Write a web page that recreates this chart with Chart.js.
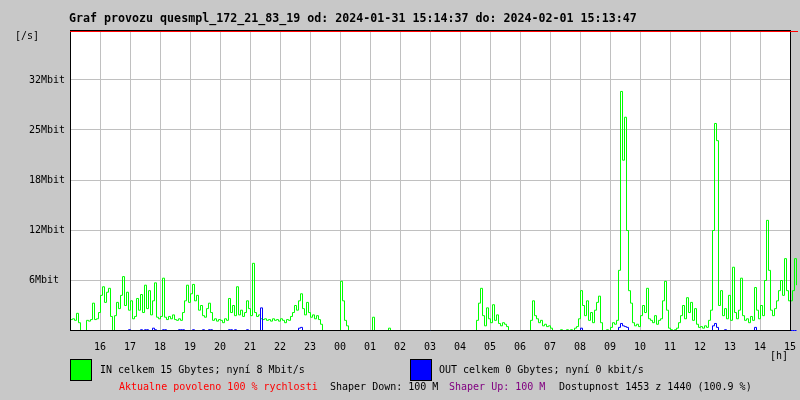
<!DOCTYPE html>
<html><head><meta charset="utf-8">
<script src="https://cdn.jsdelivr.net/npm/chart.js@4"></script>
<style>
html,body{margin:0;padding:0;background:#c8c8c8;}
#wrap{position:relative;width:800px;height:400px;overflow:hidden;background:#c8c8c8;}
canvas{position:absolute;left:0;top:0;}
.t{position:absolute;font-family:"DejaVu Sans Mono",monospace;font-size:10px;line-height:12px;white-space:pre;color:#000;}
.title{font-size:11.65px;line-height:14px;font-weight:bold;}
.sq{position:absolute;width:20px;height:20px;border:1px solid #000;}
</style></head><body>
<div id="wrap">
<canvas id="c" width="800" height="400"></canvas>
<div class="t title" style="left:69px;top:11px;">Graf provozu quesmpl_172_21_83_19 od: 2024-01-31 15:14:37 do: 2024-02-01 15:13:47</div>
<div class="t" style="left:15px;top:30px;">[/s]</div>
<div class="t" style="left:770px;top:350px;">[h]</div>
<div class="sq" style="left:70px;top:359px;background:#00ff00;"></div>
<div class="t" style="left:100px;top:364px;">IN celkem 15 Gbytes; nyní 8 Mbit/s</div>
<div class="sq" style="left:410px;top:359px;background:#0000ff;"></div>
<div class="t" style="left:439px;top:364px;">OUT celkem 0 Gbytes; nyní 0 kbit/s</div>
<div class="t" style="left:119px;top:381px;color:#ff0000;">Aktualne povoleno 100 % rychlosti</div>
<div class="t" style="left:330px;top:381px;">Shaper Down: 100 M</div>
<div class="t" style="left:449px;top:381px;color:#800080;">Shaper Up: 100 M</div>
<div class="t" style="left:559px;top:381px;">Dostupnost 1453 z 1440 (100.9 %)</div>
</div>
<script>
// hour labels on the x axis (hours after 15:00 of 2024-01-31)
const hourLabels = ['16','17','18','19','20','21','22','23','00','01','02','03','04','05','06','07','08','09','10','11','12','13','14','15'];
const hourTickPos = [0,1,2,3,4,5,6,7,8,9,10,11,12,13,14,15,16,17,18,19,20,21,22,23,24];
// y grid values (Mbit/s) and their labels
const yTickValues = [0, 6.4, 12.8, 19.2, 25.6, 32, 38.4];
const yTickLabels = ['', '6Mbit', '12Mbit', '18Mbit', '25Mbit', '32Mbit', ''];
// one sample every 4 minutes
const SAMPLE_STEP_H = 4/60;
// IN traffic, Mbit/s
const inMbit = [
1.4,1.5,1.3,2.2,1.0,0,0,0,1.3,1.2,
1.4,3.5,1.4,1.5,2.3,4.5,5.6,3.6,4.9,5.4,
1.8,0,1.9,3.6,2.8,4.5,6.9,3.2,4.9,2.6,
3.8,1.5,1.8,4.1,2.6,4.6,2.3,5.8,2.8,5.1,
2.0,3.8,6.1,1.7,1.5,1.8,6.7,1.7,1.4,1.8,
1.5,2.0,1.4,1.3,1.5,1.3,2.3,3.8,5.8,3.6,
4.7,5.9,3.8,4.5,2.6,3.2,1.9,1.7,2.8,3.5,
2.3,1.3,1.5,1.2,1.4,1.3,1.0,1.5,1.3,4.1,
2.3,3.2,1.9,5.6,2.0,2.6,1.8,2.3,3.8,2.8,
1.9,8.6,2.3,1.8,2.0,1.5,1.4,1.5,1.3,1.4,
1.2,1.5,1.3,1.4,1.2,1.5,1.3,1.0,1.4,1.3,
1.8,2.3,3.2,2.6,3.8,4.7,2.8,2.0,3.6,2.3,
1.7,2.0,1.5,1.9,1.4,0.8,0,0,0,0,
0,0,0,0,0,6.3,3.8,1.3,0.6,0,
0,0,0,0,0,0,0,0,0,0,
0,1.7,0,0,0,0,0,0,0,0.3,
0,0,0,0,0,0,0,0,0,0,
0,0,0,0,0,0,0,0,0,0,
0,0,0,0,0,0,0,0,0,0,
0,0,0,0,0,0,0,0,0,0,
0,0,0,1.3,3.5,5.4,1.9,0.6,2.9,1.5,
1.0,3.3,1.3,2.0,0.9,0.6,1.0,0.8,0.5,0,
0,0,0,0,0,0,0,0,0,0,
1.3,3.8,1.9,1.5,1.0,1.3,0.6,0.8,0.5,0.6,
0.3,0,0,0,0,0.1,0,0,0.1,0,
0.1,0,0.3,0.5,1.5,5.1,3.2,1.9,3.8,1.3,
2.3,1.0,2.6,3.6,4.4,1.0,0,0,0.1,0,
0.4,1.0,0.8,1.3,7.7,30.6,21.8,27.3,12.8,5.1,
3.5,1.0,0.6,0.8,0.5,1.9,3.2,2.3,5.4,1.5,
1.3,1.0,1.9,0.8,1.3,1.5,3.8,6.3,2.6,0.3,
0.1,0,0.1,0.3,1.0,1.9,3.2,1.5,4.2,2.3,
3.6,1.3,2.8,0.8,0.4,0.5,0.3,0.6,0.4,1.3,
2.6,12.8,26.5,24.3,3.2,5.1,1.9,2.8,1.5,4.5,
1.3,8.1,2.3,1.5,2.6,6.7,1.9,1.3,1.5,1.0,
1.8,1.3,5.5,2.6,1.5,3.2,1.9,6.4,14.1,7.7,
2.6,1.9,2.8,3.8,5.1,6.4,4.5,9.2,5.1,3.8,
3.8,5.1,9.2,5.8
];
// OUT traffic, Mbit/s
const outMbit = [
0,0,0,0,0,0,0,0,0,0,
0,0,0,0,0,0,0,0,0,0,
0,0,0,0,0,0,0,0,0,0.1,
0,0,0,0,0,0.1,0,0.1,0.1,0,
0,0.3,0.1,0,0,0,0.1,0.1,0,0,
0,0,0,0,0.1,0.1,0.1,0,0,0,
0,0.1,0,0,0,0,0.1,0,0,0.1,
0.1,0,0,0,0,0,0,0,0,0.1,
0.1,0,0.1,0,0,0,0,0,0.1,0,
0,0,0,0,0,2.9,0,0,0,0,
0,0,0,0,0,0,0,0,0,0,
0,0,0,0,0.3,0.4,0,0,0,0,
0,0,0,0,0,0,0,0,0,0,
0,0,0,0,0,0,0,0,0,0,
0,0,0,0,0,0,0,0,0,0,
0,0,0,0,0,0,0,0,0,0,
0,0,0,0,0,0,0,0,0,0,
0,0,0,0,0,0,0,0,0,0,
0,0,0,0,0,0,0,0,0,0,
0,0,0,0,0,0,0,0,0,0,
0,0,0,0,0,0,0,0,0,0,
0,0,0,0,0,0,0,0,0,0,
0,0,0,0,0,0,0,0,0,0,
0,0,0,0,0,0,0,0,0,0,
0,0,0,0,0,0,0,0,0,0,
0,0,0,0,0,0.3,0,0,0,0,
0,0,0,0,0,0,0,0,0,0,
0,0,0,0,0.4,0.9,0.6,0.5,0.4,0,
0,0,0,0,0,0,0,0,0,0,
0,0,0,0,0,0,0,0,0,0,
0,0,0,0,0,0,0,0,0,0,
0,0,0,0,0,0,0,0,0,0,
0,0.6,0.9,0.4,0,0,0,0.1,0,0,
0,0,0,0,0,0,0,0,0,0,
0,0,0.4,0,0,0,0,0,0,0,
0,0,0,0,0,0,0,0,0,0,
0,0,0,0
];

const toPoints = arr => arr.map((v,i)=>({x:i*SAMPLE_STEP_H, y:v}));

const bgPlugin = {
  id:'bg',
  beforeDraw(chart){
    const {ctx, chartArea:a} = chart;
    ctx.save(); ctx.fillStyle='#ffffff';
    ctx.fillRect(a.left, a.top, a.right-a.left, a.bottom-a.top);
    ctx.restore();
  },
  beforeDatasetsDraw(chart){ chart.ctx.save(); chart.ctx.translate(0.5,0.5); },
  afterDatasetsDraw(chart){
    const {ctx, chartArea:a} = chart;
    ctx.restore();
    ctx.save();
    ctx.lineWidth=1;
    ctx.strokeStyle='#000000';
    ctx.beginPath();
    ctx.moveTo(a.left+0.5, a.top); ctx.lineTo(a.left+0.5, a.bottom+1);
    ctx.moveTo(a.left, a.bottom+0.5); ctx.lineTo(a.right+1, a.bottom+0.5);
    ctx.moveTo(a.right+0.5, a.top); ctx.lineTo(a.right+0.5, a.bottom+1);
    ctx.moveTo(a.left, a.top+0.5); ctx.lineTo(a.right+1, a.top+0.5);
    ctx.stroke();
    ctx.strokeStyle='#ff0000';
    ctx.beginPath();
    ctx.moveTo(a.left, a.top+1.5); ctx.lineTo(a.right+8, a.top+1.5);
    ctx.stroke();
    ctx.restore();
  }
};

const tickFont = {family:'"DejaVu Sans Mono", monospace', size:10};

new Chart(document.getElementById('c').getContext('2d'), {
  type:'line',
  data:{datasets:[
    {label:'OUT', data:toPoints(outMbit), borderColor:'#0000ff', borderWidth:1, pointRadius:0, stepped:true, fill:false, order:1, clip:false},
    {label:'IN', data:toPoints(inMbit), borderColor:'#00ff00', borderWidth:1, pointRadius:0, stepped:true, fill:false, order:2, clip:false}
  ]},
  options:{
    responsive:false, animation:false, devicePixelRatio:1,
    layout:{padding:{left:29, top:30, right:10, bottom:0}},
    plugins:{legend:{display:false}, tooltip:{enabled:false}},
    scales:{
      x:{type:'linear', bounds:'data',
        afterDataLimits:s=>{ s.min = 0; s.max = 24; },
        afterBuildTicks:s=>{ s.ticks = hourTickPos.map(v=>({value:v})); s.min = 0; s.max = 24; },
        afterFit:s=>{ s.height = 70; s.paddingLeft = 0; s.paddingRight = 0; },
        grid:{color:'#c0c0c0', lineWidth:1, drawTicks:false},
        border:{display:false},
        ticks:{autoSkip:false, maxRotation:0, padding:11, color:'#000', font:tickFont,
          callback:(v,i)=> i===0 ? '' : hourLabels[i-1]}
      },
      y:{type:'linear', min:0, max:38.4,
        afterBuildTicks:s=>{ s.ticks = yTickValues.map(v=>({value:v})); },
        afterFit:s=>{ s.width = 41; s.paddingTop = 0; s.paddingBottom = 0; },
        grid:{color:'#c0c0c0', lineWidth:1, drawTicks:false},
        border:{display:false},
        ticks:{crossAlign:'far', padding:0, color:'#000', font:tickFont,
          callback:(v,i)=> yTickLabels[i]}
      }
    }
  },
  plugins:[bgPlugin]
});
</script>
</body></html>
